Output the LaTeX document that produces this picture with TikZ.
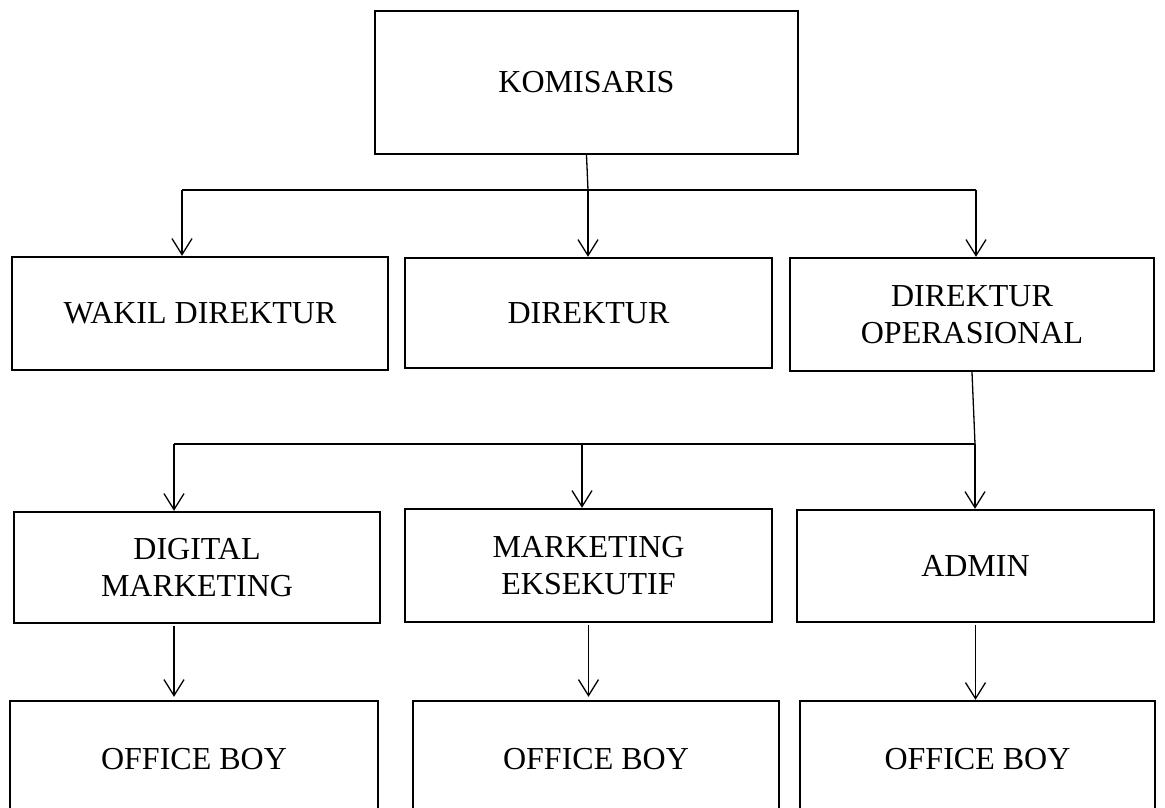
\documentclass[tikz,border=0pt]{standalone}
\usepackage{fontspec}
\setmainfont{Liberation Serif}
\usetikzlibrary{arrows.meta,calc}
\tikzset{
  orgbox/.style={draw, line width=2.4pt, align=center, inner sep=4pt,
                 font=\fontsize{32}{37}\selectfont},
  flow/.style={-{Straight Barb[length=16pt, width=20pt]}, line width=1.3pt},
  link/.style={line width=1.3pt},
}

\begin{document}
\begin{tikzpicture}[x=1pt, y=-1pt]
  \clip (0,0) rectangle (1165,807);
  % top
  \node[orgbox, minimum width=423pt, minimum height=143pt] (kom) at (586.5,82.5) {KOMISARIS};
  % directors
  \node[orgbox, minimum width=376pt, minimum height=113pt] (wakil) at (200,313.5) {WAKIL DIREKTUR};
  \node[orgbox, minimum width=367pt, minimum height=110pt] (dir) at (588.5,313) {DIREKTUR};
  \node[orgbox, minimum width=364pt, minimum height=113pt] (dirops) at (972,314.5) {DIREKTUR\\OPERASIONAL};
  % staff
  \node[orgbox, minimum width=366pt, minimum height=111pt] (digmkt) at (197,567.5) {DIGITAL\\MARKETING};
  \node[orgbox, minimum width=367pt, minimum height=113pt] (mkteks) at (588.5,565.5) {MARKETING\\EKSEKUTIF};
  \node[orgbox, minimum width=357pt, minimum height=112pt] (admin) at (975.5,566) {ADMIN};
  % office boys (cut at the bottom)
  \node[orgbox, minimum width=368pt, minimum height=116pt] (ob1) at (194,759) {OFFICE BOY};
  \node[orgbox, minimum width=366pt, minimum height=116pt] (ob2) at (596,759) {OFFICE BOY};
  \node[orgbox, minimum width=355pt, minimum height=116pt] (ob3) at (977.5,759) {OFFICE BOY};
  % first bus
  \coordinate (kj) at (588,190);
  \coordinate (b1l) at (182,190);
  \coordinate (b1r) at (976,190);
  \draw[link] (kom.south) -- (kj);
  \draw[link] (b1l) -- (b1r);
  \draw[flow] (b1l) -- (b1l |- wakil.north);
  \draw[flow] (kj) -- (kj |- dir.north);
  \draw[flow] (b1r) -- (b1r |- dirops.north);
  % second bus
  \coordinate (oj) at (975,444);
  \coordinate (b2l) at (174,444);
  \coordinate (b2m) at (582,444);
  \draw[link] (dirops.south) -- (oj);
  \draw[link] (b2l) -- (oj);
  \draw[flow] (b2l) -- (b2l |- digmkt.north);
  \draw[flow] (b2m) -- (b2m |- mkteks.north);
  \draw[flow] (oj) -- (oj |- admin.north);
  % to office boys
  \draw[flow, shorten <=2pt, shorten >=3pt] (b2l |- digmkt.south) -- (b2l |- ob1.north);
  \draw[flow, shorten <=2pt, shorten >=3pt] (mkteks.south) -- (mkteks.south |- ob2.north);
  \draw[flow, shorten <=2pt] (admin.south) -- (admin.south |- ob3.north);
\end{tikzpicture}
\end{document}
